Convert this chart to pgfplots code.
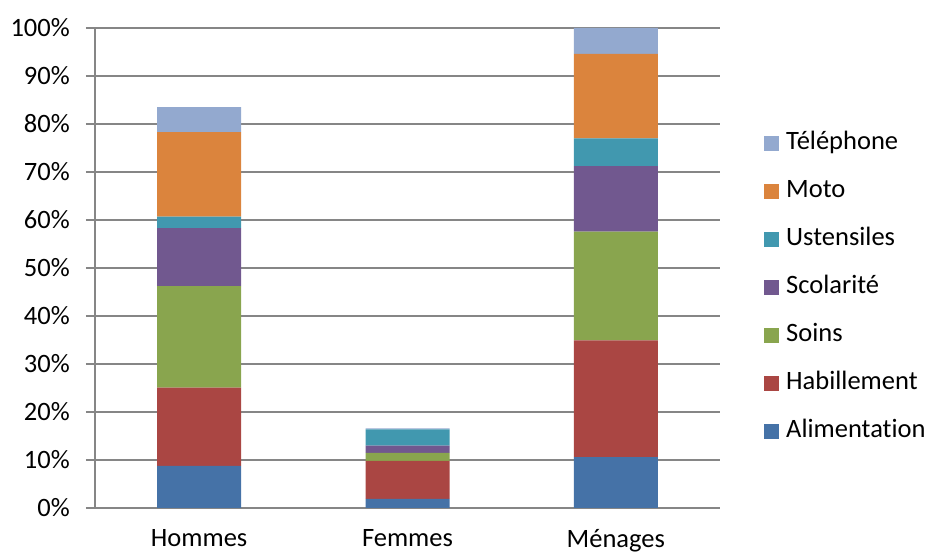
\documentclass[border=0pt]{standalone}
\usepackage{fontspec}
\setmainfont{Carlito}[Ligatures=NoCommon]
\usepackage{pgfplots}
\usepackage{pgfplotstable}
\pgfplotsset{compat=1.18}
\definecolor{cAlim}{HTML}{4572A7}
\definecolor{cHab}{HTML}{AA4643}
\definecolor{cSoins}{HTML}{89A54E}
\definecolor{cScol}{HTML}{71588F}
\definecolor{cUst}{HTML}{4198AF}
\definecolor{cMoto}{HTML}{DB843D}
\definecolor{cTel}{HTML}{93A9CF}
\definecolor{gridgray}{HTML}{868686}
\pgfplotstableread{
x Alim Hab Soins Scol Ust Moto Tel
0 8.8 16.3 21.1 12.1 2.4 17.6 5.2
1 1.9 7.9 1.7 1.5 3.4 0 0.2
2 10.6 24.3 22.7 13.6 5.8 17.6 5.4
}\datatable
\begin{document}
\fontsize{26.5}{31}\selectfont
\begin{tikzpicture}[x=1pt,y=1pt]
\useasboundingbox (0,0) rectangle (927,554);
\begin{axis}[
  at={(95pt,46pt)}, anchor=south west,
  scale only axis, width=625pt, height=480pt,
  ybar stacked, bar width=84pt,
  xmin=-0.5, xmax=2.5, ymin=0, ymax=100,
  axis x line*=bottom, axis y line*=left,
  axis line style={gridgray, line width=1.3pt},
  xtick={0,1,2}, xticklabels={Hommes,Femmes,Ménages},
  extra x ticks={-0.5,0.5,1.5,2.5}, extra x tick labels={},
  extra x tick style={major tick length=9pt, tick style={gridgray, line width=1.3pt}, grid=none},
  x tick style={draw=none}, major tick length=9pt,
  tick align=outside,
  ytick={0,10,...,100},
  yticklabels={0\%,10\%,20\%,30\%,40\%,50\%,60\%,70\%,80\%,90\%,100\%},
  y tick style={gridgray, line width=1.3pt},
  ymajorgrids, grid style={gridgray, line width=1.3pt},
  xticklabel style={inner sep=0pt, yshift=-12pt},
  yticklabel style={inner sep=0pt, xshift=-16pt},
  enlargelimits=false, clip=false,
  every axis plot/.append style={draw=none},
  legend image code/.code={\fill[#1] (0pt,-7.5pt) rectangle (15pt,7.5pt); \path (22pt,0pt);},
  reverse legend,
  legend cell align=left,
  legend style={draw=none, fill=none, at={(1.0704,0.4584)}, anchor=west,
    inner sep=0pt, nodes={inner sep=0pt, text height=18pt, text depth=6pt},
    row sep=24pt},
]
\addplot[fill=cAlim] table[x=x,y=Alim] {\datatable};
\addlegendentry{Alimentation}
\addplot[fill=cHab] table[x=x,y=Hab] {\datatable};
\addlegendentry{Habillement}
\addplot[fill=cSoins] table[x=x,y=Soins] {\datatable};
\addlegendentry{Soins}
\addplot[fill=cScol] table[x=x,y=Scol] {\datatable};
\addlegendentry{Scolarité}
\addplot[fill=cUst] table[x=x,y=Ust] {\datatable};
\addlegendentry{Ustensiles}
\addplot[fill=cMoto] table[x=x,y=Moto] {\datatable};
\addlegendentry{Moto}
\addplot[fill=cTel] table[x=x,y=Tel] {\datatable};
\addlegendentry{Téléphone}
\end{axis}
\end{tikzpicture}
\end{document}
